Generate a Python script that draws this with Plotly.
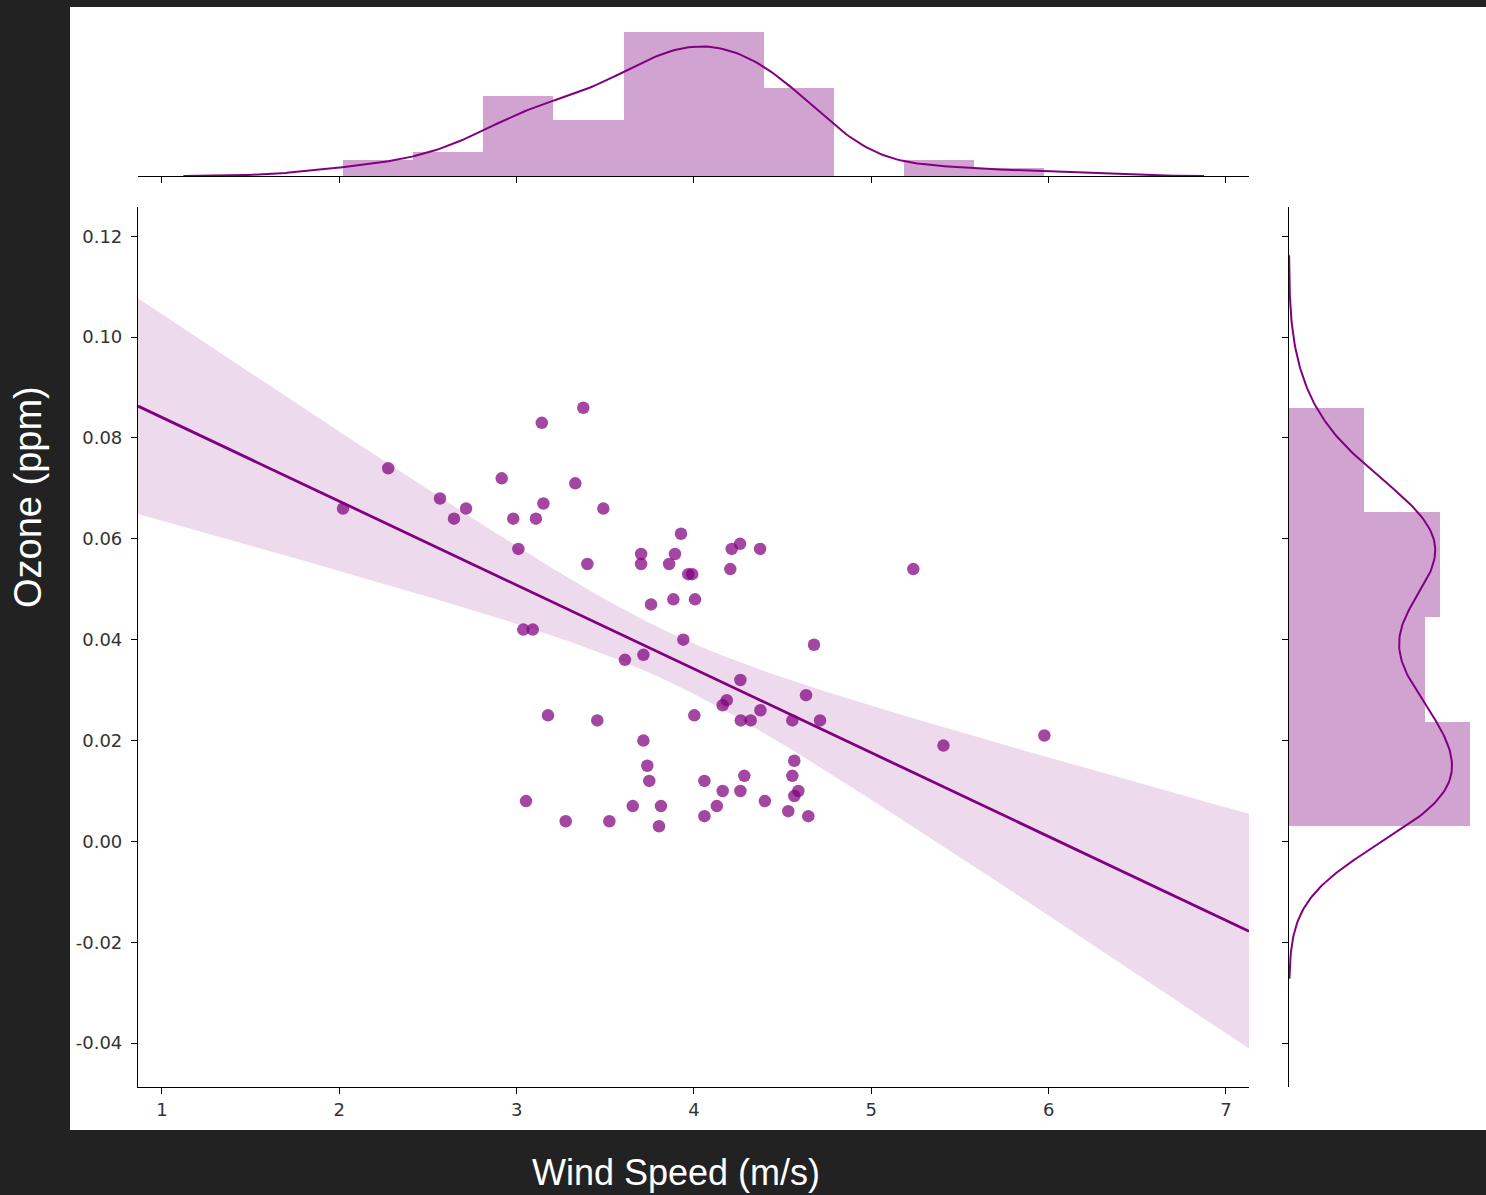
import numpy as np
import plotly.graph_objects as go

# ---------------- data ----------------
wind_speed = [
    2.021, 2.276, 2.568, 2.647, 2.715, 2.916, 2.981, 3.010, 3.109, 3.142,
    3.151, 3.331, 3.376, 3.489, 3.399, 3.038, 3.091, 3.177, 3.455, 3.053,
    3.277, 3.523, 3.611, 3.715, 3.702, 3.702, 3.758, 3.715, 3.737, 3.748,
    3.655, 3.814, 3.803, 3.860, 3.893, 3.927, 3.884, 3.968, 3.990, 4.006,
    3.940, 4.002, 4.059, 4.059, 4.129, 4.162, 4.162, 4.185, 4.205, 4.213,
    4.260, 4.373, 4.262, 4.264, 4.320, 4.375, 4.284, 4.262, 4.400, 4.555,
    4.632, 4.711, 4.677, 4.566, 4.555, 4.589, 4.566, 4.532, 4.645, 5.237,
    5.407, 5.976,
]
ozone = [
    0.066, 0.074, 0.068, 0.064, 0.066, 0.072, 0.064, 0.058, 0.064, 0.083,
    0.067, 0.071, 0.086, 0.066, 0.055, 0.042, 0.042, 0.025, 0.024, 0.008,
    0.004, 0.004, 0.036, 0.037, 0.057, 0.055, 0.047, 0.020, 0.015, 0.012,
    0.007, 0.007, 0.003, 0.055, 0.057, 0.061, 0.048, 0.053, 0.053, 0.048,
    0.040, 0.025, 0.012, 0.005, 0.007, 0.010, 0.027, 0.028, 0.054, 0.058,
    0.059, 0.058, 0.032, 0.024, 0.024, 0.026, 0.013, 0.010, 0.008, 0.024,
    0.029, 0.024, 0.039, 0.016, 0.013, 0.010, 0.009, 0.006, 0.005, 0.054,
    0.019, 0.021,
]
x_tick_vals = [1, 2, 3, 4, 5, 6, 7]
x_tick_labels = ["1", "2", "3", "4", "5", "6", "7"]
y_tick_vals = [-0.04, -0.02, 0.00, 0.02, 0.04, 0.06, 0.08, 0.10, 0.12]
y_tick_labels = ["-0.04", "-0.02", "0.00", "0.02", "0.04", "0.06", "0.08", "0.10", "0.12"]
x_bins = 10
y_bins = 4

x_title = "Wind Speed (m/s)"
y_title = "Ozone (ppm)"

# ---------------- styling ----------------
PURPLE = "rgb(128,0,128)"
BG = "#222222"
W, H = 1486, 1195
X_RANGE = [0.865, 7.13]
Y_RANGE = [-0.0487, 0.1258]

def px_x(p):
    return p / W

def px_y(p):
    return (H - p) / H

x = np.array(wind_speed)
y = np.array(ozone)
n = len(x)

# ---------------- regression with 95% CI ----------------
slope, intercept = np.polyfit(x, y, 1)
grid = np.linspace(X_RANGE[0], X_RANGE[1], 200)
fit = intercept + slope * grid
resid = y - (intercept + slope * x)
s = np.sqrt(np.sum(resid ** 2) / (n - 2))
sxx = np.sum((x - x.mean()) ** 2)
se = s * np.sqrt(1.0 / n + (grid - x.mean()) ** 2 / sxx)
tval = 1.994
upper = fit + tval * se
lower = fit - tval * se

# ---------------- histograms & kde ----------------
def kde(vals):
    bw = np.std(vals, ddof=1) * len(vals) ** (-1 / 5)
    g = np.linspace(vals.min() - 3 * bw, vals.max() + 3 * bw, 300)
    d = np.exp(-0.5 * ((g[:, None] - vals[None, :]) / bw) ** 2).sum(axis=1)
    d /= len(vals) * bw * np.sqrt(2 * np.pi)
    return g, d

hx, ex = np.histogram(x, bins=x_bins, density=True)
hy, ey = np.histogram(y, bins=y_bins, density=True)
kx_g, kx_d = kde(x)
ky_g, ky_d = kde(y)

fig = go.Figure()

# confidence band
fig.add_trace(go.Scatter(
    x=np.concatenate([grid, grid[::-1]]),
    y=np.concatenate([upper, lower[::-1]]),
    fill="toself", fillcolor="rgba(128,0,128,0.14)",
    line=dict(width=0), mode="lines", hoverinfo="skip",
    xaxis="x", yaxis="y",
))
# regression line
fig.add_trace(go.Scatter(
    x=grid, y=fit, mode="lines",
    line=dict(color=PURPLE, width=2.8),
    xaxis="x", yaxis="y",
))
# scatter
fig.add_trace(go.Scatter(
    x=x, y=y, mode="markers",
    marker=dict(color="rgba(128,0,128,0.72)", size=12.5, line=dict(width=0)),
    xaxis="x", yaxis="y",
))
# top marginal histogram
fig.add_trace(go.Bar(
    x=(ex[:-1] + ex[1:]) / 2, y=hx, width=np.diff(ex),
    marker=dict(color="rgba(128,0,128,0.36)", line=dict(width=0)),
    xaxis="x2", yaxis="y2",
))
fig.add_trace(go.Scatter(
    x=kx_g, y=kx_d, mode="lines",
    line=dict(color=PURPLE, width=2),
    xaxis="x2", yaxis="y2",
))
# right marginal histogram
fig.add_trace(go.Bar(
    y=(ey[:-1] + ey[1:]) / 2, x=hy, width=np.diff(ey), orientation="h",
    marker=dict(color="rgba(128,0,128,0.36)", line=dict(width=0)),
    xaxis="x3", yaxis="y3",
))
fig.add_trace(go.Scatter(
    x=ky_d, y=ky_g, mode="lines",
    line=dict(color=PURPLE, width=2),
    xaxis="x3", yaxis="y3",
))

tick_font = dict(family="DejaVu Sans", size=18, color="#333333")
axis_common = dict(showline=True, linecolor="black", linewidth=1.2,
                   ticks="outside", ticklen=6, tickwidth=1.2, tickcolor="black",
                   showgrid=False, zeroline=False)

main_x_dom = [px_x(138), px_x(1249)]
main_y_dom = [px_y(1087), px_y(207)]

fig.update_layout(
    width=W, height=H,
    margin=dict(l=0, r=0, t=0, b=0),
    paper_bgcolor=BG, plot_bgcolor="rgba(0,0,0,0)",
    showlegend=False, bargap=0,
    xaxis=dict(domain=main_x_dom, range=X_RANGE, anchor="y",
               tickvals=x_tick_vals, ticktext=x_tick_labels,
               tickfont=tick_font, **axis_common),
    yaxis=dict(domain=main_y_dom, range=Y_RANGE, anchor="x",
               tickvals=y_tick_vals, ticktext=y_tick_labels,
               tickfont=tick_font, ticklabelstandoff=5, **axis_common),
    xaxis2=dict(domain=main_x_dom, range=X_RANGE, anchor="y2",
                tickvals=x_tick_vals, showticklabels=False, **axis_common),
    yaxis2=dict(domain=[px_y(176), px_y(25)], range=[0, hx.max() * 1.05],
                anchor="x2", visible=False),
    xaxis3=dict(domain=[px_x(1289), px_x(1479)], range=[0, hy.max() * 1.05],
                anchor="y3", visible=False),
    yaxis3=dict(domain=main_y_dom, range=Y_RANGE, anchor="x3",
                tickvals=y_tick_vals, showticklabels=False, **axis_common),
    shapes=[dict(type="rect", xref="paper", yref="paper",
                 x0=px_x(70), x1=1.0, y0=px_y(1130), y1=px_y(7),
                 fillcolor="white", line=dict(width=0), layer="below")],
    annotations=[
        dict(text=y_title, xref="paper", yref="paper", x=px_x(28), y=px_y(497),
             textangle=-90, showarrow=False, xanchor="center", yanchor="middle",
             font=dict(family="Liberation Sans, Arial", size=38, color="white")),
        dict(text=x_title, xref="paper", yref="paper", x=px_x(676), y=px_y(1172),
             showarrow=False, xanchor="center", yanchor="middle",
             font=dict(family="Liberation Sans, Arial", size=36, color="white")),
    ],
)

fig.write_html(
    "out.html",
    config={"displayModeBar": False},
    post_script="document.body.style.margin='0';document.body.style.padding='0';"
                "document.body.style.overflow='hidden';"
                "document.body.style.background='#222222';",
)
